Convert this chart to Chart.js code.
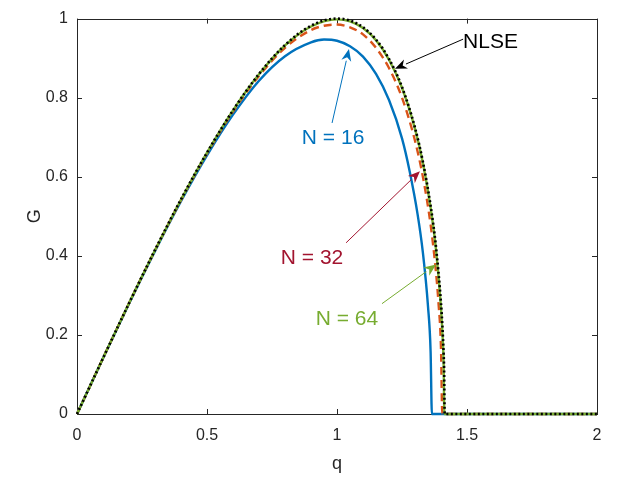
<!DOCTYPE html>
<html>
<head>
<meta charset="utf-8">
<script src="https://cdn.jsdelivr.net/npm/chart.js@4.4.1/dist/chart.umd.min.js"></script>
<style>
  html, body { margin: 0; padding: 0; background: #fff; }
  #wrap { width: 620px; height: 481px; }
</style>
</head>
<body>
<div id="wrap"><canvas id="chart"></canvas></div>
<script>
// values
const q16 = [0, 0.1, 0.2, 0.3, 0.4, 0.5, 0.6, 0.7, 0.8, 0.9, 0.95, 1.0, 1.05, 1.1, 1.15, 1.2, 1.25, 1.28, 1.31, 1.33, 1.35, 1.36, 1.365, 2];
const g16 = [0, 0.141, 0.279, 0.412, 0.538, 0.654, 0.757, 0.843, 0.905, 0.940, 0.947, 0.944, 0.930, 0.904, 0.860, 0.794, 0.697, 0.612, 0.505, 0.410, 0.272, 0.158, 0, 0];

const q32 = [0, 0.1, 0.2, 0.3, 0.4, 0.5, 0.6, 0.7, 0.8, 0.9, 0.95, 1.0, 1.05, 1.1, 1.15, 1.2, 1.25, 1.3, 1.33, 1.36, 1.38, 1.39, 1.40, 1.405, 2];
const g32 = [0, 0.141, 0.280, 0.414, 0.541, 0.659, 0.765, 0.855, 0.926, 0.971, 0.982, 0.985, 0.978, 0.960, 0.926, 0.875, 0.800, 0.691, 0.601, 0.479, 0.363, 0.284, 0.165, 0, 0];

const q64 = [0, 0.1, 0.2, 0.3, 0.4, 0.5, 0.6, 0.7, 0.8, 0.9, 1.0, 1.05, 1.1, 1.15, 1.2, 1.25, 1.3, 1.33, 1.36, 1.38, 1.40, 1.405, 1.41, 1.413, 2];
const g64 = [0, 0.141, 0.280, 0.414, 0.542, 0.661, 0.768, 0.859, 0.932, 0.980, 0.998, 0.993, 0.976, 0.945, 0.896, 0.825, 0.721, 0.636, 0.522, 0.420, 0.268, 0.210, 0.130, 0, 0];

const qNLSE = [0, 0.1, 0.2, 0.3, 0.4, 0.5, 0.6, 0.7, 0.8, 0.9, 1.0, 1.05, 1.1, 1.15, 1.2, 1.25, 1.3, 1.33, 1.36, 1.38, 1.40, 1.405, 1.41, 1.412, 1.4142, 2];
const gNLSE = [0, 0.141, 0.280, 0.415, 0.543, 0.661, 0.768, 0.860, 0.933, 0.982, 1.0, 0.995, 0.978, 0.947, 0.898, 0.827, 0.724, 0.639, 0.527, 0.427, 0.280, 0.227, 0.154, 0.112, 0, 0];

const xTicks = [0, 0.5, 1, 1.5, 2];
const yTicks = [0, 0.2, 0.4, 0.6, 0.8, 1];

// annotation texts with arrow tail/head in data units
const notes = [
  { text: 'NLSE',   color: '#000000', tx: 1.485, ty: 0.940, align: 'left',   from: [1.485, 0.948], to: [1.223, 0.873] },
  { text: 'N = 16', color: '#0072BD', tx: 0.985, ty: 0.697, align: 'center', from: [0.981, 0.736], to: [1.046, 0.923] },
  { text: 'N = 32', color: '#A2142F', tx: 0.904, ty: 0.394, align: 'center', from: [1.035, 0.433], to: [1.319, 0.614] },
  { text: 'N = 64', color: '#77AC30', tx: 1.038, ty: 0.239, align: 'center', from: [1.173, 0.279], to: [1.381, 0.378] }
];

const FONT = '"Liberation Sans", Arial, Helvetica, sans-serif';

function pts(xs, ys) {
  return xs.map((x, i) => ({ x: x, y: ys[i] }));
}

const matlabBox = {
  id: 'matlabBox',
  beforeDatasetsDraw(chart) {
    const c = chart.ctx, a = chart.chartArea;
    const sx = chart.scales.x, sy = chart.scales.y;
    c.save();
    // box and inward ticks
    c.strokeStyle = '#262626';
    c.lineWidth = 1;
    c.strokeRect(Math.round(a.left) + 0.5, Math.round(a.top) + 0.5, Math.round(a.right - a.left), Math.round(a.bottom - a.top));
    c.beginPath();
    xTicks.forEach(v => {
      const px = Math.round(sx.getPixelForValue(v)) + 0.5;
      c.moveTo(px, a.bottom); c.lineTo(px, a.bottom - 5);
      c.moveTo(px, a.top); c.lineTo(px, a.top + 5);
    });
    yTicks.forEach(v => {
      const py = Math.round(sy.getPixelForValue(v)) + 0.5;
      c.moveTo(a.left, py); c.lineTo(a.left + 5, py);
      c.moveTo(a.right, py); c.lineTo(a.right - 5, py);
    });
    c.stroke();
    // axis titles
    c.fillStyle = '#262626';
    c.font = '18px ' + FONT;
    c.textAlign = 'center';
    c.textBaseline = 'middle';
    c.fillText('q', (a.left + a.right) / 2, 464);
    c.translate(35, (a.top + a.bottom) / 2);
    c.rotate(-Math.PI / 2);
    c.fillText('G', 0, 0);
    c.restore();
  },
  afterDatasetsDraw(chart) {
    const c = chart.ctx;
    const sx = chart.scales.x, sy = chart.scales.y;
    c.save();
    notes.forEach(n => {
      const x0 = sx.getPixelForValue(n.from[0]), y0 = sy.getPixelForValue(n.from[1]);
      const x1 = sx.getPixelForValue(n.to[0]), y1 = sy.getPixelForValue(n.to[1]);
      const ang = Math.atan2(y1 - y0, x1 - x0);
      const hl = 12, hw = 5;
      const bx = x1 - hl * Math.cos(ang), by = y1 - hl * Math.sin(ang);
      c.strokeStyle = n.color;
      c.fillStyle = n.color;
      c.lineWidth = 1;
      c.setLineDash([]);
      c.beginPath();
      c.moveTo(x0, y0);
      c.lineTo(bx, by);
      c.stroke();
      c.beginPath();
      c.moveTo(x1, y1);
      c.lineTo(bx + hw * Math.sin(ang), by - hw * Math.cos(ang));
      c.lineTo(x1 - 0.7 * hl * Math.cos(ang), y1 - 0.7 * hl * Math.sin(ang));
      c.lineTo(bx - hw * Math.sin(ang), by + hw * Math.cos(ang));
      c.closePath();
      c.fill();
      c.font = '21px ' + FONT;
      c.textAlign = n.align;
      c.textBaseline = 'middle';
      c.fillText(n.text, sx.getPixelForValue(n.tx), sy.getPixelForValue(n.ty));
    });
    c.restore();
  }
};

const ctx = document.getElementById('chart').getContext('2d');
const myChart = new Chart(ctx, {
  type: 'line',
  data: {
    datasets: [
      { label: 'N = 16', data: pts(q16, g16), borderColor: '#0072BD', borderWidth: 2.4, clip: 4, order: 4 },
      { label: 'N = 32', data: pts(q32, g32), borderColor: '#D95319', borderWidth: 2.4, borderDash: [8, 5], clip: 4, order: 3 },
      { label: 'N = 64', data: pts(q64, g64), borderColor: '#77AC30', borderWidth: 2.4, clip: 4, order: 2 },
      { label: 'NLSE', data: pts(qNLSE, gNLSE), borderColor: '#000000', borderWidth: 2.6, borderDash: [2, 2.5], clip: 4, order: 1 }
    ]
  },
  options: {
    responsive: true,
    maintainAspectRatio: false,
    animation: false,
    layout: { padding: { top: 12, right: 23, left: 0, bottom: 0 } },
    elements: {
      point: { radius: 0 },
      line: { cubicInterpolationMode: 'monotone', fill: false }
    },
    plugins: {
      legend: { display: false },
      tooltip: { enabled: false }
    },
    scales: {
      x: {
        type: 'linear',
        min: 0, max: 2,
        afterBuildTicks: s => { s.ticks = xTicks.map(v => ({ value: v })); },
        afterFit: s => { s.height = 67; },
        grid: { display: false, drawTicks: false },
        border: { display: false },
        ticks: { padding: 12, color: '#262626', font: { family: FONT, size: 16 }, maxRotation: 0, callback: v => String(v) }
      },
      y: {
        type: 'linear',
        min: 0, max: 1,
        afterBuildTicks: s => { s.ticks = yTicks.map(v => ({ value: v })); },
        afterFit: s => { s.width = 77; },
        grid: { display: false, drawTicks: false },
        border: { display: false },
        ticks: { padding: 9, color: '#262626', font: { family: FONT, size: 16 }, callback: v => String(v) }
      }
    }
  },
  plugins: [matlabBox]
});
</script>
</body>
</html>
